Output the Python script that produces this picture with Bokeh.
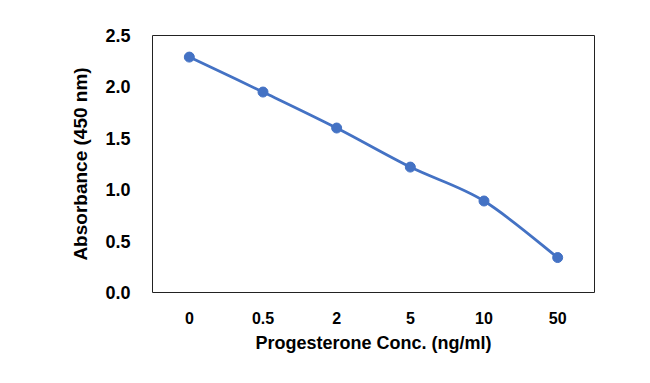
from bokeh.plotting import figure
from bokeh.models import Range1d, FixedTicker, PrintfTickFormatter
from bokeh.embed import file_html
from bokeh.resources import INLINE

# Data
concentrations = ["0", "0.5", "2", "5", "10", "50"]
absorbance = [2.29, 1.95, 1.60, 1.22, 0.89, 0.34]
y_ticks = [0.0, 0.5, 1.0, 1.5, 2.0, 2.5]

xs = list(range(len(concentrations)))

BLUE = "#4472C4"
FONT = "Liberation Sans"

p = figure(width=634, height=362, output_backend="svg", toolbar_location=None,
           x_range=Range1d(-0.5, len(concentrations) - 0.5), y_range=Range1d(0, 2.5),
           min_border_left=152, min_border_right=40, min_border_top=35, min_border_bottom=70)

# Smoothed line (Catmull-Rom style bezier segments between data points)
n = len(xs)
x0, y0, x1, y1, cx0, cy0, cx1, cy1 = [], [], [], [], [], [], [], []
for i in range(n - 1):
    pm = max(i - 1, 0)
    pn = min(i + 2, n - 1)
    x0.append(xs[i]); y0.append(absorbance[i])
    x1.append(xs[i + 1]); y1.append(absorbance[i + 1])
    cx0.append(xs[i] + (xs[i + 1] - xs[pm]) / 6.0)
    cy0.append(absorbance[i] + (absorbance[i + 1] - absorbance[pm]) / 6.0)
    cx1.append(xs[i + 1] - (xs[pn] - xs[i]) / 6.0)
    cy1.append(absorbance[i + 1] - (absorbance[pn] - absorbance[i]) / 6.0)

p.bezier(x0=x0, y0=y0, x1=x1, y1=y1, cx0=cx0, cy0=cy0, cx1=cx1, cy1=cy1,
         line_color=BLUE, line_width=2.8)
p.scatter(xs, absorbance, size=10, fill_color=BLUE, line_color=BLUE)

p.xgrid.visible = False
p.ygrid.visible = False
p.outline_line_color = "#222222"
p.outline_line_width = 1
p.background_fill_color = "white"
p.border_fill_color = "white"

p.xaxis.ticker = FixedTicker(ticks=xs)
p.xaxis.major_label_overrides = {i: c for i, c in enumerate(concentrations)}
p.yaxis.ticker = FixedTicker(ticks=y_ticks)
p.yaxis.formatter = PrintfTickFormatter(format="%.1f")

for ax in (p.xaxis[0], p.yaxis[0]):
    ax.axis_line_color = None
    ax.major_tick_line_color = None
    ax.minor_tick_line_color = None
    ax.major_label_text_font = FONT
    ax.major_label_text_font_style = "bold"
    ax.major_label_text_color = "black"
    ax.axis_label_text_font = FONT
    ax.axis_label_text_font_style = "bold"
    ax.axis_label_text_color = "black"

p.xaxis.major_label_text_font_size = "16px"
p.yaxis.major_label_text_font_size = "18px"
p.xaxis.axis_label_text_font_size = "18px"
p.yaxis.axis_label_text_font_size = "19px"
p.xaxis.axis_label = "Progesterone Conc. (ng/ml)"
p.yaxis.axis_label = "Absorbance (450 nm)"
p.xaxis.major_label_standoff = 13
p.yaxis.major_label_standoff = 16
p.xaxis.axis_label_standoff = 6
p.yaxis.axis_label_standoff = 11

open("out.html", "w").write(file_html(p, INLINE))
